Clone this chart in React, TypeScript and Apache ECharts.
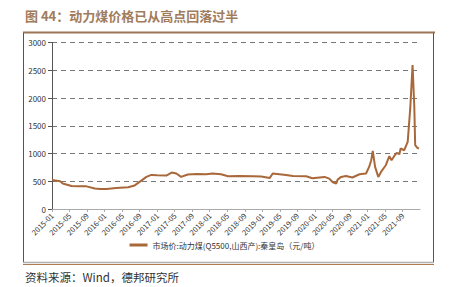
import React, { useEffect, useRef } from "react";
import * as echarts from "echarts";

const seriesName = "市场价:动力煤(Q5500,山西产):秦皇岛（元/吨）";
const titleText = "图 44：动力煤价格已从高点回落过半";
const sourceText = "资料来源：Wind，德邦研究所";

const dates = [
  "2015-01-01", "2015-02-25", "2015-03-15", "2015-05-15", "2015-07-01", "2015-08-28",
  "2015-10-25", "2015-12-01", "2016-01-15", "2016-03-21", "2016-06-12", "2016-07-28",
  "2016-09-01", "2016-10-18", "2016-11-21", "2017-01-01", "2017-03-04", "2017-04-10",
  "2017-05-13", "2017-06-15", "2017-08-01", "2017-10-01", "2017-12-07", "2018-01-22",
  "2018-03-19", "2018-05-07", "2018-07-25", "2018-10-28", "2018-12-25", "2019-02-21",
  "2019-03-13", "2019-06-13", "2019-08-01", "2019-11-01", "2019-12-15", "2020-03-07",
  "2020-04-10", "2020-05-04", "2020-05-28", "2020-06-07", "2020-07-01", "2020-08-04",
  "2020-09-18", "2020-11-07", "2020-12-22", "2021-01-13", "2021-01-28", "2021-02-07",
  "2021-02-22", "2021-03-16", "2021-04-04", "2021-05-07", "2021-06-01", "2021-06-16",
  "2021-07-04", "2021-07-22", "2021-08-10", "2021-08-19", "2021-09-13", "2021-10-07",
  "2021-10-16", "2021-10-25", "2021-11-10", "2021-11-22", "2021-11-28", "2021-12-13",
  "2021-12-25",
];
const prices = [
  523, 500, 460, 415, 412, 408,
  370, 362, 361, 380, 392, 425,
  488, 578, 614, 608, 603, 657,
  640, 578, 621, 632, 626, 639,
  626, 590, 596, 590, 585, 560,
  639, 614, 596, 590, 554, 578,
  548, 482, 458, 530, 578, 596,
  567, 626, 639, 758, 879, 1047,
  758, 578, 668, 789, 951, 879,
  951, 1011, 987, 1090, 1059, 1209,
  1510, 1812, 2594, 1840, 1149, 1101,
  1090,
];
const startYear = 2015;

function monthIndex(d: string): number {
  const [y, m, day] = d.split("-").map(Number);
  const dim = new Date(y, m, 0).getDate();
  return (y - startYear) * 12 + (m - 1) + (day - 1) / dim;
}
function monthLabel(v: number): string {
  const y = startYear + Math.floor(v / 12);
  const m = (v % 12) + 1;
  return `${y}-${m < 10 ? "0" + m : m}`;
}

const xTickValues: number[] = [];
for (let i = 0; i <= 80; i += 4) xTickValues.push(i);

export default function App() {
  const ref = useRef<HTMLDivElement>(null);
  useEffect(() => {
    if (!ref.current) return;
    const chart = echarts.init(ref.current, undefined, { renderer: "svg" });
    const brown = "#a8683a";
    const titleColor = "#a07c5c";
    chart.setOption({
      animation: false,
      backgroundColor: "#ffffff",
      textStyle: { fontFamily: "'Noto Sans CJK SC', 'Liberation Sans', sans-serif" },
      grid: { left: 52, right: 29, top: 42.5, bottom: 78, containLabel: false },
      legend: {
        bottom: 33,
        left: "center",
        itemWidth: 18,
        itemHeight: 3,
        icon: "rect",
        itemGap: 4,
        textStyle: { fontSize: 8, color: "#333" },
        data: [seriesName],
      },
      xAxis: {
        type: "value",
        min: 0,
        max: 84,
        interval: 4,
        splitLine: { show: false },
        axisLine: { show: true, lineStyle: { color: "#aaa", width: 1 } },
        axisTick: { show: true, length: 3, lineStyle: { color: "#aaa" }, customValues: xTickValues },
        axisLabel: {
          customValues: xTickValues,
          rotate: 45,
          fontSize: 7.5,
          color: "#333",
          margin: 5,
          formatter: (v: number) => monthLabel(v),
        },
      },
      yAxis: {
        type: "value",
        min: 0,
        max: 3000,
        interval: 500,
        axisLine: { show: true, lineStyle: { color: "#555", width: 1 } },
        axisTick: { show: true, length: 4, inside: false, lineStyle: { color: "#555" } },
        axisLabel: { fontSize: 8, color: "#333", margin: 6, formatter: (v: number) => String(v) },
        splitLine: { show: true, lineStyle: { type: [5, 4], color: "#777", width: 1 } },
      },
      series: [
        {
          name: seriesName,
          type: "line",
          symbol: "none",
          smooth: false,
          lineStyle: { color: brown, width: 2 },
          itemStyle: { color: brown },
          data: dates.map((d, i) => [monthIndex(d), prices[i]]),
        },
      ],
      graphic: [
        {
          type: "text",
          left: 25,
          top: 9,
          style: {
            text: titleText,
            fill: titleColor,
            font: "bold 13px 'Noto Sans CJK SC', sans-serif",
          },
        },
        { type: "line", shape: { x1: 23, y1: 32.5, x2: 435, y2: 32.5 }, style: { stroke: "#9c7456", lineWidth: 2 } },
        { type: "line", shape: { x1: 23.5, y1: 33, x2: 23.5, y2: 262 }, style: { stroke: "#555", lineWidth: 1 } },
        { type: "line", shape: { x1: 433.5, y1: 33, x2: 433.5, y2: 262 }, style: { stroke: "#555", lineWidth: 1 } },
        { type: "line", shape: { x1: 23, y1: 262.5, x2: 434, y2: 262.5 }, style: { stroke: "#b0b0b0", lineWidth: 1.5 } },
        { type: "line", shape: { x1: 23, y1: 264.5, x2: 434, y2: 264.5 }, style: { stroke: "#b07a50", lineWidth: 1 } },
        {
          type: "text",
          left: 25,
          top: 271,
          style: {
            text: sourceText,
            fill: "#333",
            font: "11.5px 'Noto Sans CJK SC', sans-serif",
          },
        },
      ],
    });
    return () => chart.dispose();
  }, []);
  return <div ref={ref} style={{ width: 449, height: 287, position: "absolute", left: 0, top: 0 }} />;
}
